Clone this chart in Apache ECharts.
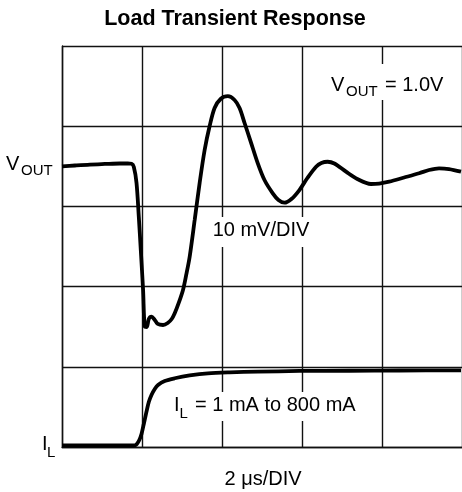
<!DOCTYPE html>
<html>
<head>
<meta charset="utf-8">
<script src="https://cdn.jsdelivr.net/npm/echarts@6/dist/echarts.min.js"></script>
<style>
  html, body { margin: 0; padding: 0; background: #fff; }
  #plot { width: 462px; height: 492px; }
</style>
</head>
<body>
<div id="plot"></div>
<script>
// time in us (2 us per division), level in divisions from the bottom of the screen
const voutTime = [0, 0.324, 0.698, 1.072, 1.446, 1.646, 1.738, 1.796, 1.863, 1.920, 1.970, 2.027, 2.070,
  2.120, 2.170, 2.237, 2.319, 2.394, 2.526, 2.643, 2.743, 2.818, 2.918, 3.025, 3.105, 3.192, 3.317,
  3.441, 3.566, 3.691, 3.815, 3.965, 4.147, 4.314, 4.439, 4.564, 4.713, 4.895, 5.062, 5.269, 5.411,
  5.561, 5.736, 5.935, 6.135, 6.352, 6.484, 6.641, 6.808, 7.100, 7.382, 7.723, 7.930, 8.180, 8.554,
  8.928, 9.177, 9.426, 9.676, 9.975];
const voutLevel = [3.498, 3.510, 3.522, 3.529, 3.535, 3.535, 3.531, 3.491, 3.292, 2.872, 2.456, 1.958, 1.500,
  1.496, 1.596, 1.625, 1.584, 1.534, 1.521, 1.546, 1.596, 1.667, 1.796, 1.958, 2.145, 2.373, 2.830,
  3.292, 3.703, 4.002, 4.227, 4.339, 4.374, 4.327, 4.227, 4.040, 3.815, 3.537, 3.329, 3.163, 3.080,
  3.046, 3.092, 3.204, 3.354, 3.495, 3.541, 3.557, 3.535, 3.433, 3.342, 3.279, 3.285, 3.308, 3.360,
  3.413, 3.454, 3.475, 3.466, 3.433];

const ilTime = [0, 0.948, 1.796, 1.870, 1.933, 1.988, 2.045, 2.112, 2.170, 2.237, 2.319, 2.401, 2.569,
  2.818, 3.192, 3.648, 4.190, 4.895, 5.935, 7.182, 8.429, 9.975];
const ilLevel = [0.019, 0.019, 0.019, 0.037, 0.087, 0.162, 0.287, 0.440, 0.561, 0.648, 0.723, 0.773, 0.823,
  0.857, 0.892, 0.919, 0.931, 0.939, 0.948, 0.951, 0.954, 0.956];

const FONT = '"Liberation Sans", Arial, Helvetica, sans-serif';

function pairs(xs, ys) {
  return xs.map((x, i) => [x, ys[i]]);
}

function label(x, y, text, size, align, weight) {
  return {
    type: 'text', x: x, y: y, z: 10,
    style: {
      text: text, font: (weight || '') + ' ' + size + 'px ' + FONT, fill: '#000',
      align: align || 'left', verticalAlign: 'middle'
    }
  };
}

function whiteBox(x, y, w, h) {
  return { type: 'rect', z: 5, shape: { x: x, y: y, width: w, height: h }, style: { fill: '#fff' } };
}

const chart = echarts.init(document.getElementById('plot'), null, { renderer: 'canvas' });

chart.setOption({
  animation: false,
  backgroundColor: '#fff',
  grid: { left: 62, top: 46, width: 401, height: 401 },
  xAxis: {
    type: 'value', min: 0, max: 10, interval: 2,
    axisLine: { show: true, lineStyle: { color: '#111', width: 1.4 } },
    axisTick: { show: false }, axisLabel: { show: false },
    splitLine: { show: true, lineStyle: { color: '#111', width: 1.4 } }
  },
  yAxis: {
    type: 'value', min: 0, max: 5, interval: 1,
    axisLine: { show: true, lineStyle: { color: '#111', width: 1.4 } },
    axisTick: { show: false }, axisLabel: { show: false },
    splitLine: { show: true, lineStyle: { color: '#111', width: 1.4 } }
  },
  series: [
    {
      name: 'VOUT', type: 'line', data: pairs(voutTime, voutLevel),
      showSymbol: false, smooth: 0.3, z: 3,
      lineStyle: { color: '#000', width: 3.8 }
    },
    {
      name: 'IL', type: 'line', data: pairs(ilTime, ilLevel),
      showSymbol: false, smooth: 0.3, z: 3,
      lineStyle: { color: '#000', width: 3.8 }
    }
  ],
  graphic: [
    label(235, 19, 'Load Transient Response', 21.5, 'center', 'bold'),

    label(6, 164, 'V', 20),
    label(21, 170.5, 'OUT', 15),

    whiteBox(326, 64, 124, 36),
    label(331, 85, 'V', 20),
    label(346, 92, 'OUT', 15),
    label(385, 85, '= 1.0V', 20),

    whiteBox(210, 217, 102, 30),
    label(261, 230, '10 mV/DIV', 20, 'center'),

    whiteBox(172, 392, 194, 29),
    label(174, 405, 'I', 20),
    label(179.5, 413.5, 'L', 15),
    label(195, 405, '= 1 mA to 800 mA', 20),

    label(42, 444.5, 'I', 20),
    label(47, 453, 'L', 15),

    label(263, 479, '2 μs/DIV', 20, 'center')
  ]
});
</script>
</body>
</html>
